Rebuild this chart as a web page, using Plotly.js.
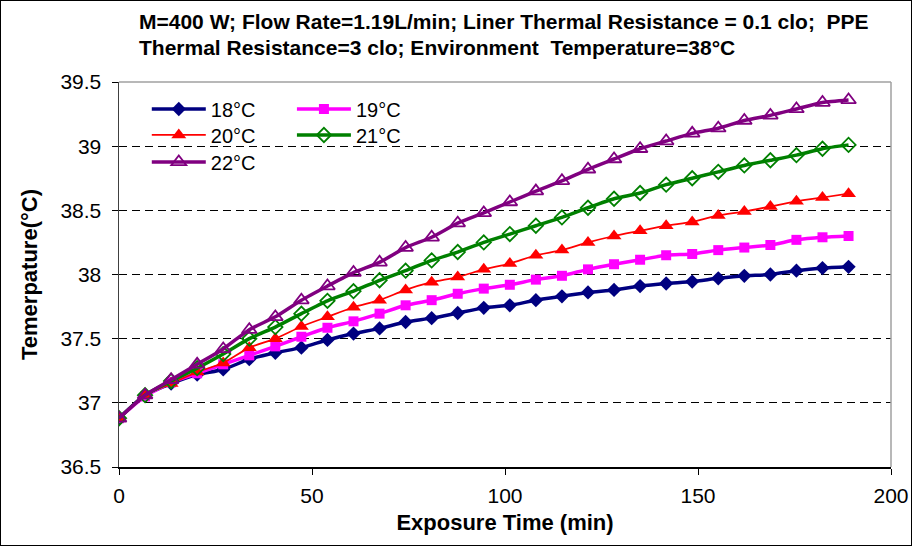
<!DOCTYPE html>
<html>
<head>
<meta charset="utf-8">
<script src="https://cdn.plot.ly/plotly-3.0.1.min.js"></script>
<style>
html,body{margin:0;padding:0;background:#fff;}
#wrap{position:relative;width:912px;height:546px;}
#chart{width:912px;height:546px;}
#frame{position:absolute;left:0;top:0;width:910px;height:544px;border:1px solid #000;pointer-events:none;}
</style>
</head>
<body>
<div id="wrap"><div id="chart"></div><div id="frame"></div></div>
<script>
// Exposure time (min)
const time = [0, 6.75, 13.5, 20.25, 27, 33.75, 40.5, 47.25, 54, 60.75, 67.5, 74.25, 81, 87.75, 94.5,
  101.25, 108, 114.75, 121.5, 128.25, 135, 141.75, 148.5, 155.25, 162, 168.75, 175.5, 182.25, 189];

const seriesNames = ['18°C', '19°C', '20°C', '21°C', '22°C'];

const t18 = [36.88, 37.06, 37.15, 37.22, 37.26, 37.34, 37.39, 37.43, 37.49, 37.54, 37.58, 37.63, 37.66, 37.70, 37.74,
  37.76, 37.80, 37.83, 37.86, 37.88, 37.91, 37.93, 37.945, 37.97, 37.99, 38.00, 38.03, 38.05, 38.06];
const t19 = [36.88, 37.05, 37.16, 37.23, 37.30, 37.37, 37.44, 37.515, 37.585, 37.635, 37.695, 37.76, 37.80, 37.85, 37.89,
  37.92, 37.96, 37.99, 38.04, 38.08, 38.115, 38.15, 38.16, 38.19, 38.21, 38.23, 38.27, 38.29, 38.30];
const t20 = [36.88, 37.06, 37.15, 37.24, 37.31, 37.43, 37.50, 37.595, 37.67, 37.745, 37.80, 37.88, 37.94, 37.98, 38.04,
  38.085, 38.15, 38.19, 38.25, 38.30, 38.34, 38.38, 38.41, 38.46, 38.49, 38.53, 38.57, 38.60, 38.63];
const t21 = [36.88, 37.06, 37.17, 37.27, 37.38, 37.50, 37.59, 37.695, 37.795, 37.87, 37.955, 38.03, 38.11, 38.175, 38.25,
  38.315, 38.38, 38.445, 38.52, 38.59, 38.635, 38.70, 38.75, 38.80, 38.85, 38.89, 38.93, 38.98, 39.01];
const t22 = [36.88, 37.06, 37.18, 37.30, 37.42, 37.57, 37.67, 37.80, 37.91, 38.015, 38.095, 38.21, 38.29, 38.40, 38.48,
  38.565, 38.65, 38.73, 38.82, 38.90, 38.98, 39.04, 39.10, 39.14, 39.20, 39.24, 39.29, 39.34, 39.36];

const xTicks = [0, 50, 100, 150, 200];
const yTicks = [36.5, 37, 37.5, 38, 38.5, 39, 39.5];
const yTickText = ['36.5', '37', '37.5', '38', '38.5', '39', '39.5'];

const titleLines = ['M=400 W; Flow Rate=1.19L/min; Liner Thermal Resistance = 0.1 clo;  PPE',
  'Thermal Resistance=3 clo; Environment  Temperature=38°C'];

const F = 'Liberation Sans, Arial, sans-serif';

const styles = [
  {color: '#000080', width: 3.5, symbol: 'diamond', size: 11, legend: 'legend'},
  {color: '#FF00FF', width: 3.5, symbol: 'square', size: 10, legend: 'legend2'},
  {color: '#FF0000', width: 1.75, symbol: 'triangle-up', size: 13, legend: 'legend3'},
  {color: '#008000', width: 3.5, symbol: 'diamond-open', size: 11, legend: 'legend4'},
  {color: '#800080', width: 3.5, symbol: 'triangle-up-open', size: 13, legend: 'legend5'}
];
const values = [t18, t19, t20, t21, t22];

const traces = values.map((v, i) => ({
  x: time, y: v, name: seriesNames[i], type: 'scatter', mode: 'lines+markers',
  legend: styles[i].legend,
  line: {color: styles[i].color, width: styles[i].width, shape: 'spline', smoothing: 0.6},
  marker: {color: styles[i].color, symbol: styles[i].symbol, size: styles[i].size,
           line: {color: styles[i].color, width: styles[i].symbol.indexOf('open') >= 0 ? 1.8 : 0}}
}));

const legendBase = {
  bgcolor: 'rgba(0,0,0,0)', borderwidth: 0, orientation: 'v',
  font: {family: F, size: 20, color: '#000'}, itemwidth: 54, tracegroupgap: 0,
  yanchor: 'top', xanchor: 'left'
};
const lg = (x, y) => Object.assign({}, legendBase, {x: x, y: y});

const layout = {
  width: 912, height: 546,
  margin: {l: 119, r: 21, t: 82, b: 79},
  paper_bgcolor: '#fff', plot_bgcolor: '#fff',
  showlegend: true,
  annotations: [
    {text: titleLines[0], xref: 'paper', yref: 'paper', x: 0.0233, y: 1.157, xanchor: 'left', yanchor: 'middle',
     showarrow: false, font: {family: F, size: 21, color: '#000', weight: 'bold'}},
    {text: titleLines[1], xref: 'paper', yref: 'paper', x: 0.0233, y: 1.089, xanchor: 'left', yanchor: 'middle',
     showarrow: false, font: {family: F, size: 21, color: '#000', weight: 'bold'}}
  ],
  xaxis: {
    range: [0, 200], tickvals: xTicks, ticktext: xTicks.map(String),
    showgrid: false, zeroline: false,
    showline: true, linecolor: '#000', linewidth: 1.5,
    ticks: 'outside', ticklen: 6, tickcolor: '#000', tickwidth: 1,
    ticklabelstandoff: 3,
    tickfont: {family: F, size: 21, color: '#000'},
    title: {text: 'Exposure Time (min)', font: {family: F, size: 22, color: '#000', weight: 'bold'}, standoff: 9}
  },
  yaxis: {
    range: [36.5, 39.5], tickvals: yTicks, ticktext: yTickText,
    showgrid: true, gridcolor: '#000', gridwidth: 1, griddash: '8px,5px',
    zeroline: false,
    showline: true, linecolor: '#404040', linewidth: 1.5,
    ticks: 'outside', ticklen: 6, tickcolor: '#000', tickwidth: 1,
    ticklabelstandoff: 6,
    tickfont: {family: F, size: 21, color: '#000'},
    title: {text: 'Temerpature(°C)', font: {family: F, size: 22, color: '#000', weight: 'bold'}, standoff: 16}
  },
  legend: lg(0.036, 0.9805),
  legend2: lg(0.224, 0.9805),
  legend3: lg(0.036, 0.913),
  legend4: lg(0.224, 0.913),
  legend5: lg(0.036, 0.843),
  shapes: [
    {type: 'rect', xref: 'paper', yref: 'paper', x0: 0.002, x1: 0.39, y0: 0.76, y1: 0.99,
     fillcolor: '#fff', line: {width: 0}, layer: 'between'},
    {type: 'line', xref: 'paper', yref: 'paper', x0: 0, x1: 1, y0: 1, y1: 1,
     line: {color: '#a0a0a0', width: 1.5}, layer: 'above'},
    {type: 'line', xref: 'paper', yref: 'paper', x0: 1, x1: 1, y0: 0, y1: 1,
     line: {color: '#a0a0a0', width: 1.5}, layer: 'above'}
  ]
};

Plotly.newPlot('chart', traces, layout, {displayModeBar: false, staticPlot: true});
</script>
</body>
</html>
